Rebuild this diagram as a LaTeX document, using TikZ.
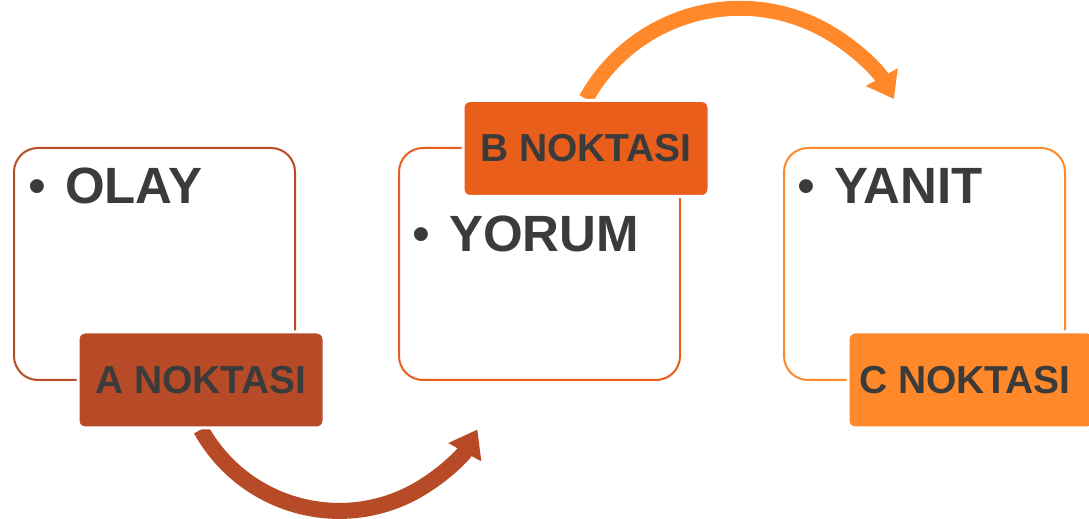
\documentclass[tikz,border=0pt]{standalone}
\usepackage{fontspec}
\setmainfont{Liberation Sans}
\usetikzlibrary{arrows.meta,backgrounds}
\definecolor{rustA}{RGB}{183,74,39}
\definecolor{orangeB}{RGB}{232,94,26}
\definecolor{orangeC}{RGB}{255,137,42}
\definecolor{textgray}{RGB}{59,59,59}

\begin{document}
\begin{tikzpicture}[x=1pt,y=1pt,
  frame/.style={draw=#1, line width=2pt, rounded corners=24pt, minimum width=281pt, minimum height=232pt, inner sep=0pt},
  tag/.style={fill=#1, draw=white, line width=3pt, rounded corners=7pt, minimum width=246pt, minimum height=96pt, inner sep=0pt, text=textgray, font=\fontsize{39}{39}\selectfont\bfseries},
  item/.style={anchor=base west, inner sep=0pt, text=textgray, font=\fontsize{51}{51}\selectfont}]
\useasboundingbox (0,0) rectangle (1089,519);

% outlined boxes
\node[frame=rustA] (boxA) at (154.5,255) {};
\node[frame=orangeB] (boxB) at (539.5,255) {};
\node[frame=orangeC] (boxC) at (924.5,255) {};

% bullet lines
\node[item] (olay) at ([shift={(15,-57)}]boxA.north west) {•\hspace{19pt}\textbf{OLAY}};
\node[item] (yorum) at ([shift={(14,-105)}]boxB.north west) {•\hspace{19pt}\textbf{YORUM}};
\node[item] (yanit) at ([shift={(14,-57)}]boxC.north west) {•\hspace{19pt}\textbf{YANIT}};

% point labels
\node[tag=rustA] (labelA) at (201,139) {A NOKTASI};
\node[tag=orangeB] (labelB) at (586,370.5) {B NOKTASI};
\node[tag=orangeC] (labelC) at (971,139) {\hspace{-12pt}C NOKTASI};

% curved arrows
\begin{scope}[on background layer]
\draw[draw=rustA, line width=16pt, -{Triangle[width=36pt,length=26pt]}] (labelA.south) arc[start angle=209, end angle=331, radius=158];
\draw[draw=orangeC, line width=15pt, -{Triangle[width=35pt,length=25pt]}] (labelB.north) arc[start angle=151, end angle=29, radius=176];
\end{scope}
\end{tikzpicture}
\end{document}
